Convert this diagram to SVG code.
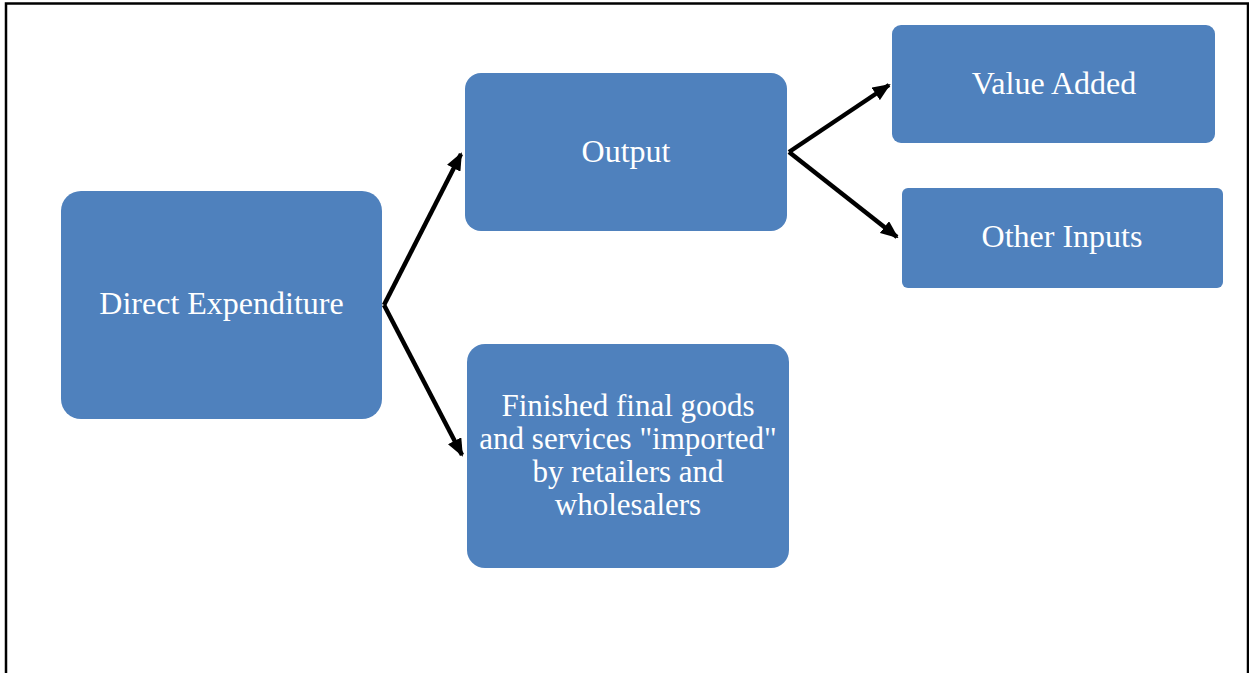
<svg xmlns="http://www.w3.org/2000/svg" width="1249" height="673" viewBox="0 0 1249 673">
<defs>
<style>
.box{fill:#4F81BD;}
.lbl{font-family:"Liberation Serif","Times New Roman",serif;font-size:32px;fill:#ffffff;text-anchor:middle;}
.ml{font-size:31px;}
.conn{stroke:#000;stroke-width:4.5;fill:none;marker-end:url(#ah);}
</style>
<marker id="ah" markerUnits="userSpaceOnUse" markerWidth="18" markerHeight="15" refX="16" refY="7.5" orient="auto">
<path d="M0,0 L18,7.5 L0,15 Z" fill="#000"/>
</marker>
</defs>
<rect width="1249" height="673" fill="#fff"/>
<rect x="6" y="3.5" width="1242" height="700" fill="none" stroke="#000" stroke-width="2.5"/>
<g id="connectors">
<line class="conn" x1="384" y1="305" x2="461" y2="154"/>
<line class="conn" x1="384" y1="305" x2="462" y2="455"/>
<line class="conn" x1="789" y1="152" x2="889" y2="85"/>
<line class="conn" x1="789" y1="152" x2="897" y2="237"/>
</g>
<g id="direct-expenditure">
<rect class="box" x="61" y="191" width="321" height="228" rx="20"/>
<text class="lbl" x="221.5" y="314">Direct Expenditure</text>
</g>
<g id="output">
<rect class="box" x="465" y="73" width="322" height="158" rx="16"/>
<text class="lbl" x="626" y="162">Output</text>
</g>
<g id="value-added">
<rect class="box" x="892" y="25" width="323" height="118" rx="9"/>
<text class="lbl" x="1054" y="94">Value Added</text>
</g>
<g id="other-inputs">
<rect class="box" x="902" y="188" width="321" height="100" rx="6"/>
<text class="lbl" x="1062" y="247">Other Inputs</text>
</g>
<g id="finished-goods">
<rect class="box" x="467" y="344" width="322" height="224" rx="18"/>
<text class="lbl ml" x="628" y="416">Finished final goods</text>
<text class="lbl ml" x="628" y="449">and services "imported"</text>
<text class="lbl ml" x="628" y="482">by retailers and</text>
<text class="lbl ml" x="628" y="515">wholesalers</text>
</g>
</svg>
